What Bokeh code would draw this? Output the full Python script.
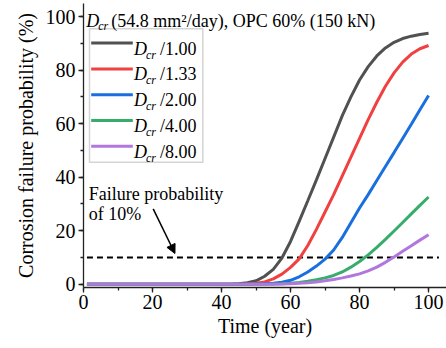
from bokeh.plotting import figure
from bokeh.models import (Range1d, SingleIntervalTicker, Label, Arrow, NormalHead,
                          BoxAnnotation)
from bokeh.embed import file_html
from bokeh.resources import INLINE

# ---- data ----
time_years = [1, 5, 10, 15, 20, 25, 30, 35, 40, 42.5, 45, 47.5, 50, 52.5, 55, 57.5,
              60, 62.5, 65, 67.5, 70, 72.5, 75, 77.5, 80, 82.5, 85, 87.5, 90, 92.5,
              95, 97.5, 100]
zeros9 = [0, 0, 0, 0, 0, 0, 0, 0, 0]
p_100 = zeros9 + [0.05, 0.2, 0.6, 1.3, 3.0, 5.6, 9.8, 16.0, 23.5, 31.2, 39.0, 47.0,
                  55.0, 63.0, 70.0, 76.3, 81.3, 85.3, 88.3, 90.4, 91.8, 92.7, 93.3, 93.8]
p_133 = zeros9 + [0.02, 0.05, 0.15, 0.4, 0.9, 2.0, 3.8, 6.3, 9.5, 14.5, 20.5, 27.0,
                  33.5, 40.5, 47.5, 54.5, 61.5, 68.0, 74.0, 79.0, 83.0, 86.0, 88.0, 89.2]
p_200 = zeros9 + [0.0, 0.02, 0.05, 0.1, 0.2, 0.4, 0.8, 1.5, 2.8, 4.6, 6.8, 9.4,
                  12.8, 17.5, 23.0, 28.5, 33.5, 38.8, 44.0, 49.2, 54.5, 59.8, 65.2, 70.5]
p_400 = zeros9 + [0.0, 0.0, 0.01, 0.02, 0.05, 0.1, 0.2, 0.4, 0.7, 1.1, 1.7, 2.4,
                  3.3, 4.6, 6.4, 8.5, 11.0, 13.8, 16.8, 19.9, 23.1, 26.3, 29.5, 32.6]
p_800 = zeros9 + [0.0, 0.0, 0.0, 0.01, 0.02, 0.05, 0.1, 0.2, 0.35, 0.55, 0.85, 1.3,
                  1.8, 2.4, 3.1, 3.9, 5.0, 6.4, 8.2, 10.2, 12.3, 14.4, 16.5, 18.5]
series = [p_100, p_133, p_200, p_400, p_800]
divisors = ["/1.00", "/1.33", "/2.00", "/4.00", "/8.00"]
colors = ["#515151", "#F14040", "#1A6FDF", "#37AD6B", "#B177DE"]
threshold = 10
threshold_x = [1, 103]
title_rest = "(54.8 mm\u00b2/day), OPC 60% (150 kN)"
note_lines = ["Failure probability", "of 10%"]

FONT = "Liberation Serif"
PXX = 3.45   # px per x unit
PXY = 2.68   # px per y unit

p = figure(width=446, height=348, output_backend="svg", toolbar_location=None,
           x_range=Range1d(0, 105.2), y_range=Range1d(-1.2, 104.9),
           min_border_left=83, min_border_right=0, min_border_top=3,
           min_border_bottom=61)
p.outline_line_color = None
p.xgrid.visible = False
p.ygrid.visible = False
p.background_fill_color = "white"

for axl in (p.xaxis, p.yaxis):
    axl.ticker = SingleIntervalTicker(interval=20, num_minor_ticks=2)
    axl.axis_line_color = "#222222"
    axl.axis_line_width = 1.3
    axl.major_tick_line_color = "#222222"
    axl.minor_tick_line_color = "#222222"
    axl.major_tick_line_width = 1.3
    axl.minor_tick_line_width = 1.3
    axl.major_tick_in = 0
    axl.major_tick_out = 5
    axl.minor_tick_in = 0
    axl.minor_tick_out = 3
    axl.major_label_text_font = FONT
    axl.major_label_text_font_size = "20px"
    axl.major_label_text_font_style = "normal"
    axl.major_label_text_color = "black"
    axl.axis_label_text_font = FONT
    axl.axis_label_text_font_size = "20px"
    axl.axis_label_text_font_style = "normal"
    axl.axis_label_text_color = "black"

p.xaxis.axis_label = "Time (year)"
p.yaxis.axis_label = "Corrosion failure probability (%)"
p.xaxis.major_label_standoff = 2
p.xaxis.axis_label_standoff = 3
p.yaxis.major_label_standoff = 3
p.yaxis.axis_label_standoff = 6

# threshold line
p.line(threshold_x, [threshold, threshold], line_color="black", line_width=1.8,
       line_dash="6 4")

# curves
for vals, col in zip(series, colors):
    p.line(time_years, vals, line_color=col, line_width=3)

# legend box
box = BoxAnnotation(left=1.74, right=34.58, top=95.5, bottom=45.6,
                    fill_color="white", fill_alpha=1.0, line_color="#707070",
                    line_width=1.5, level="underlay")
p.add_layout(box)

row0 = 90.1
dy = 9.63
for i, (lab, col) in enumerate(zip(divisors, colors)):
    yc = row0 - i * dy
    p.line([2.23, 14.29], [yc, yc], line_color=col, line_width=3)
    base = yc - 5.5 / PXY
    p.add_layout(Label(x=14.64, y=base, text="D", text_font=FONT,
                       text_font_style="italic", text_font_size="18px",
                       text_baseline="alphabetic", text_color="black"))
    p.add_layout(Label(x=14.64, y=base - 6 / PXY, x_offset=12, text="cr",
                       text_font=FONT, text_font_style="italic",
                       text_font_size="12px", text_baseline="alphabetic",
                       text_color="black"))
    p.add_layout(Label(x=14.64, y=base, x_offset=26, text=lab, text_font=FONT,
                       text_font_size="18px", text_baseline="alphabetic",
                       text_color="black"))

# title text inside plot
tb = (284 - 20.7) / PXY
p.add_layout(Label(x=0.8, y=tb, text="D", text_font=FONT, text_font_style="italic",
                   text_font_size="18px", text_baseline="alphabetic",
                   text_color="black"))
p.add_layout(Label(x=0.8, y=tb - 5 / PXY, x_offset=12, text="cr", text_font=FONT,
                   text_font_style="italic", text_font_size="12px",
                   text_baseline="alphabetic", text_color="black"))
p.add_layout(Label(x=0.8, y=tb, x_offset=25, text=title_rest, text_font=FONT,
                   text_font_size="18px", text_baseline="alphabetic",
                   text_color="black"))

# annotation text and arrow
p.add_layout(Label(x=1.5, y=(284 - 193.5) / PXY, text=note_lines[0], text_font=FONT,
                   text_font_size="18px", text_baseline="alphabetic",
                   text_color="black"))
p.add_layout(Label(x=1.5, y=(284 - 213.5) / PXY, text=note_lines[1], text_font=FONT,
                   text_font_size="18px", text_baseline="alphabetic",
                   text_color="black"))
p.add_layout(Arrow(x_start=20.2, y_start=28.2, x_end=26.5, y_end=11.5,
                   line_color="black", line_width=1.5,
                   end=NormalHead(size=9, fill_color="black", line_color="black")))

open("out.html", "w").write(file_html(p, INLINE))
